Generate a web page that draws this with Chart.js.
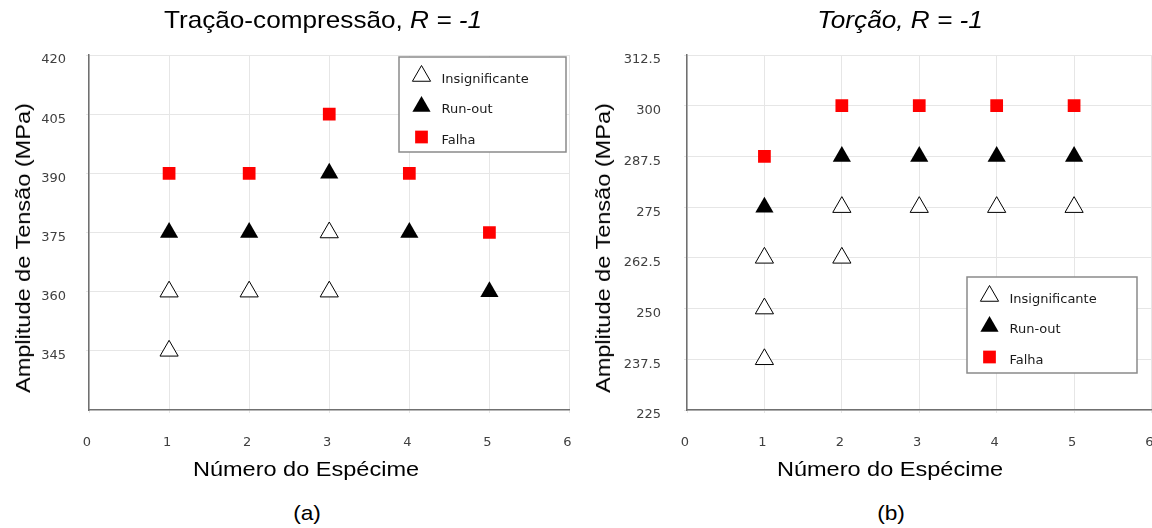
<!DOCTYPE html>
<html lang="pt">
<head>
<meta charset="utf-8">
<title>Amplitude de Tensão por espécime</title>
<script src="https://cdn.jsdelivr.net/npm/chart.js@4.4.1/dist/chart.umd.min.js"></script>
<style>
  body { margin: 0; width: 1152px; height: 528px; background: #fff; position: relative; overflow: hidden;
         font-family: "Liberation Sans", Arial, sans-serif; color: #000; }
  canvas { position: absolute; top: 0; }
  .lbl { position: absolute; white-space: nowrap; }
  .title { top: 6px; font-size: 24px; line-height: 28px; transform: translateX(-50%) scaleX(1.09); }
  .xtitle { top: 457px; font-size: 21px; line-height: 24px; transform: translateX(-50%) scaleX(1.12); }
  .ytitle { top: 248px; font-size: 21px; line-height: 24px; transform: translate(-50%, -50%) rotate(-90deg) scaleX(1.12); }
  .caption { top: 501px; font-size: 21px; line-height: 24px; transform: translateX(-50%) scaleX(1.08); }
</style>
</head>
<body>

<canvas id="chartA" width="581" height="490" style="left:0"></canvas>
<canvas id="chartB" width="587" height="490" style="left:576px"></canvas>

<div class="lbl title" style="left:323px">Tração-compressão, <i>R = -1</i></div>
<div class="lbl title" style="left:900px"><i>Torção, R = -1</i></div>
<div class="lbl ytitle" style="left:23px">Amplitude de Tensão (MPa)</div>
<div class="lbl ytitle" style="left:603px">Amplitude de Tensão (MPa)</div>
<div class="lbl xtitle" style="left:306px">Número do Espécime</div>
<div class="lbl xtitle" style="left:890px">Número do Espécime</div>
<div class="lbl caption" style="left:307px">(a)</div>
<div class="lbl caption" style="left:891px">(b)</div>

<script>
// series names (legend)
const seriesNames = ['Insignificante', 'Run-out', 'Falha'];

// x axis (specimen number)
const xTicks = [0, 1, 2, 3, 4, 5, 6];

// (a) tension-compression
const yTicksA = [345, 360, 375, 390, 405, 420];
const yMinA = 330;
const yMaxA = 420;
const insigA_x = [1, 1, 2, 3, 3];
const insigA_y = [360, 345, 360, 375, 360];
const runoutA_x = [1, 2, 3, 4, 5];
const runoutA_y = [375, 375, 390, 375, 360];
const falhaA_x = [1, 2, 3, 4, 5];
const falhaA_y = [390, 390, 405, 390, 375];

// (b) torsion
const yTicksB = [225, 237.5, 250, 262.5, 275, 287.5, 300, 312.5];
const yMinB = 225;
const yMaxB = 312.5;
const insigB_x = [1, 1, 1, 2, 2, 3, 4, 5];
const insigB_y = [262.5, 250, 237.5, 275, 262.5, 275, 275, 275];
const runoutB_x = [1, 2, 3, 4, 5];
const runoutB_y = [275, 287.5, 287.5, 287.5, 287.5];
const falhaB_x = [1, 2, 3, 4, 5];
const falhaB_y = [287.5, 300, 300, 300, 300];

function toPoints(xs, ys) {
    return xs.map(function(x, i) { return { x: x, y: ys[i] }; });
}

// legend drawn inside the plot, boxed like the original figure
const boxLegend = {
    id: 'boxLegend',
    afterDraw: function(chart, args, opts) {
        const ctx = chart.ctx;
        ctx.save();
        ctx.fillStyle = '#fff';
        ctx.fillRect(opts.x, opts.y, opts.w, opts.h);
        ctx.strokeStyle = '#8a8a8a';
        ctx.lineWidth = 1.5;
        ctx.strokeRect(opts.x, opts.y, opts.w, opts.h);

        chart.data.datasets.forEach(function(ds, i) {
            const base = opts.y + 25.5 + i * 30.5;
            ctx.fillStyle = ds.backgroundColor;
            ctx.strokeStyle = ds.borderColor;
            ctx.lineWidth = ds.borderWidth;
            Chart.helpers.drawPoint(ctx, {
                pointStyle: ds.pointStyle,
                radius: ds.pointRadius,
                rotation: 0,
                borderWidth: ds.borderWidth
            }, opts.x + 22.5, base - 6.5);

            ctx.fillStyle = '#1a1a1a';
            ctx.font = '13px "DejaVu Sans", Verdana, sans-serif';
            ctx.textBaseline = 'alphabetic';
            ctx.textAlign = 'left';
            ctx.fillText(ds.label, opts.x + 42.5, base);
        });
        ctx.restore();
    }
};

function makeChart(id, insX, insY, runX, runY, falX, falY, yMin, yMax, yTicks, yWidth, yPad, legendBox) {
    const tickFont = { family: '"DejaVu Sans", Verdana, sans-serif', size: 13 };
    return new Chart(document.getElementById(id), {
        type: 'scatter',
        data: {
            datasets: [{
                label: seriesNames[0],
                data: toPoints(insX, insY),
                pointStyle: 'triangle',
                pointRadius: 10.5,
                pointHoverRadius: 10.5,
                backgroundColor: '#ffffff',
                borderColor: '#000000',
                borderWidth: 1
            }, {
                label: seriesNames[1],
                data: toPoints(runX, runY),
                pointStyle: 'triangle',
                pointRadius: 10.5,
                pointHoverRadius: 10.5,
                backgroundColor: '#000000',
                borderColor: '#000000',
                borderWidth: 0
            }, {
                label: seriesNames[2],
                data: toPoints(falX, falY),
                pointStyle: 'rect',
                pointRadius: 9,
                pointHoverRadius: 9,
                backgroundColor: '#ff0000',
                borderColor: '#ff0000',
                borderWidth: 0
            }]
        },
        options: {
            responsive: false,
            animation: false,
            layout: { padding: { top: 55, right: 0, bottom: 0, left: 0 } },
            plugins: {
                legend: { display: false },
                tooltip: { enabled: false },
                boxLegend: legendBox
            },
            scales: {
                x: {
                    type: 'linear',
                    min: 0,
                    max: 6,
                    afterBuildTicks: function(scale) {
                        scale.ticks = xTicks.map(function(v) { return { value: v }; });
                    },
                    afterFit: function(scale) {
                        scale.height = 80;
                        scale.paddingLeft = 0;
                        scale.paddingRight = 0;
                    },
                    grid: { color: '#e6e6e6', lineWidth: 1, tickLength: 3 },
                    border: { color: '#707070', width: 1.5 },
                    ticks: {
                        font: tickFont,
                        color: '#404040',
                        padding: 22,
                        labelOffset: -2,
                        maxRotation: 0,
                        autoSkip: false
                    }
                },
                y: {
                    type: 'linear',
                    min: yMin,
                    max: yMax,
                    afterBuildTicks: function(scale) {
                        scale.ticks = yTicks.map(function(v) { return { value: v }; });
                    },
                    afterFit: function(scale) {
                        scale.width = yWidth;
                    },
                    grid: { color: '#e6e6e6', lineWidth: 1, tickLength: 3 },
                    border: { color: '#707070', width: 1.5 },
                    ticks: {
                        font: tickFont,
                        color: '#404040',
                        padding: yPad,
                        labelOffset: 5,
                        autoSkip: false,
                        callback: function(v) { return String(v); }
                    }
                }
            }
        },
        plugins: [boxLegend]
    });
}

document.addEventListener('DOMContentLoaded', function() {
    makeChart('chartA', insigA_x, insigA_y, runoutA_x, runoutA_y, falhaA_x, falhaA_y,
        yMinA, yMaxA, yTicksA, 89, 20, { x: 399, y: 57, w: 167, h: 95 });
    makeChart('chartB', insigB_x, insigB_y, runoutB_x, runoutB_y, falhaB_x, falhaB_y,
        yMinB, yMaxB, yTicksB, 111, 23, { x: 391, y: 277, w: 170, h: 96 });
});
</script>
</body>
</html>
